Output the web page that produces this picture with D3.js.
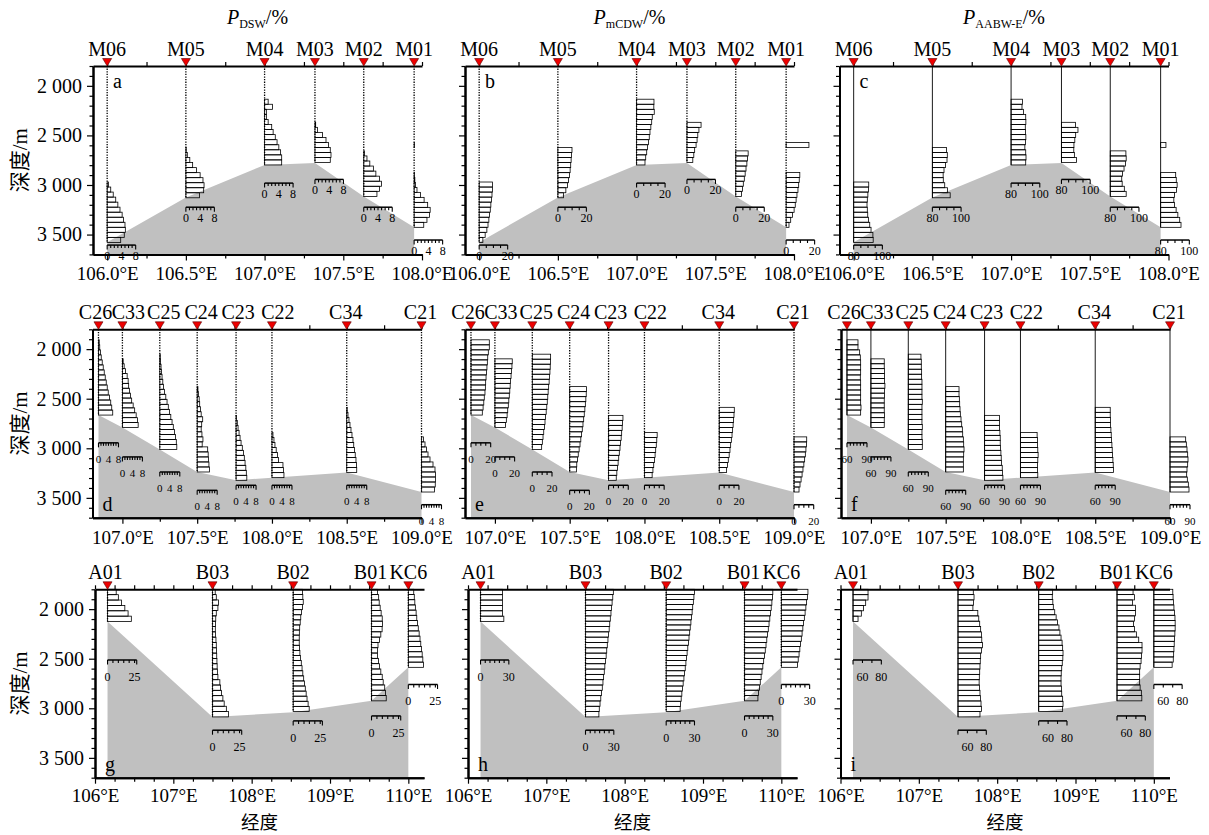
<!DOCTYPE html>
<html lang="zh">
<head>
<meta charset="utf-8">
<title>Water mass fractions along three sections</title>
<script src="https://d3js.org/d3.v7.min.js"></script>
<style>
  body { margin: 0; background: #fff; }
  .cjk { font-family: "Noto Sans CJK SC", sans-serif; }
</style>
</head>
<body>
<svg id="fig"></svg>
<script>
// ---------- data ----------
// section M (panels a-c)
const mNames = ["M06", "M05", "M04", "M03", "M02", "M01"];
const mLon = [106.0, 106.5, 107.0, 107.32, 107.63, 107.95];
const mFloor = [3578, 3125, 2798, 2778, 3116, 3427];
const mTop = [2970, 2622, 2135, 2368, 2656, 2571];
const mBottom = [3579, 3129, 2798, 2774, 3115, 3427];
const mRuler = [3606, 3224, 2981, 2944, 3224, 3555];
const mDSW = [
  [0.4, 1.0, 1.7, 2.4, 3.0, 3.6, 4.2, 4.6, 5.0, 5.1, 4.8, 3.8],
  [0.1, 0.4, 1.1, 1.9, 3.0, 4.0, 4.8, 5.1, 5.0, 3.8],
  [1.0, 2.2, 0.5, 0.5, 1.0, 2.0, 2.4, 3.0, 3.5, 4.0, 4.5, 4.8, 4.8],
  [0.2, 0.7, 2.1, 3.1, 3.8, 4.3, 4.5, 4.3],
  [0.2, 0.9, 1.7, 2.7, 3.4, 4.4, 5.0, 4.4, 3.7],
  [0.1, null, null, null, null, null, 0.1, 0.2, 0.4, 0.8, 1.8, 2.8, 3.8, 4.5, 4.3, 3.6, 2.7]
];
const mCDW = [
  [9.4, 9.3, 9.0, 8.6, 8.2, 7.8, 7.3, 6.8, 6.2, 5.4, 4.2, 2.6],
  [9.9, 9.6, 9.3, 9.0, 8.6, 8.1, 7.5, 6.8, 5.6, 4.0],
  [12.2, 12.1, 12.4, 11.0, 10.6, 10.0, 9.4, 8.9, 8.3, 7.7, 7.1, 6.4, 5.9],
  [9.9, 8.4, 7.6, 7.1, 6.4, 5.4, 4.8, 4.1],
  [8.7, 8.3, 7.8, 7.2, 6.6, 6.0, 5.3, 4.7, 4.0],
  [16.0, null, null, null, null, null, 9.6, 9.2, 8.8, 8.3, 7.6, 7.0, 6.4, 5.6, 4.5, 3.2, 2.0]
];
const mAABW = [
  [90.5, 90.4, 89.9, 89.5, 89.3, 89.5, 89.8, 90.4, 91.2, 92.1, 93.4, 93.6],
  [89.8, 90.4, 90.2, 89.2, 88.1, 87.5, 87.6, 88.6, 90.6, 92.4],
  [87.9, 87.6, 88.6, 90.2, 90.3, 89.9, 90.1, 90.3, 90.0, 89.6, 90.2, 90.4, 90.2],
  [89.8, 91.5, 89.9, 89.3, 88.7, 88.6, 89.0, 90.5],
  [90.9, 91.1, 90.6, 89.6, 88.6, 88.0, 88.3, 89.8, 91.1],
  [83.7, null, null, null, null, null, 90.5, 90.9, 91.5, 91.0, 89.7, 89.2, 89.6, 90.8, 92.0, 93.3, 94.2]
];

// section C (panels d-f)
const cNames = ["C26", "C33", "C25", "C24", "C23", "C22", "C34", "C21"];
const cLon = [106.84, 107.0, 107.25, 107.5, 107.76, 108.0, 108.5, 109.0];
const cFloor = [2665, 2790, 3012, 3239, 3323, 3296, 3245, 3441];
const cTop = [1906, 2098, 2051, 2378, 2668, 2841, 2587, 2885];
const cBottom = [2665, 2790, 3012, 3239, 3323, 3296, 3245, 3441];
const cRuler = [2945, 3087, 3239, 3424, 3373, 3373, 3373, 3569];
const cDSW = [
  [0.3, 0.5, 0.8, 1.1, 1.5, 1.9, 2.3, 2.7, 3.1, 3.5, 3.9, 4.4, 4.9, 5.3, 5.7],
  [0.3, 0.7, 1.2, 1.9, 2.3, 2.5, 2.8, 3.2, 3.7, 4.3, 4.9, 5.5, 6.0, 6.3],
  [0.2, 0.3, 0.5, 0.7, 0.9, 1.2, 1.5, 1.9, 2.4, 2.9, 3.4, 3.9, 4.4, 4.9, 5.4, 5.9, 6.3, 6.6, 6.8],
  [0.3, 0.5, 0.8, 1.0, 1.3, 1.6, 2.2, 1.8, 1.6, 1.9, 2.3, 2.0, 4.2, 4.4, 4.5, 4.7, 4.9],
  [0.2, 0.5, 0.8, 1.2, 1.6, 2.0, 2.5, 3.0, 3.3, 3.6, 3.9, 4.1, 4.3],
  [0.4, 0.8, 1.2, 1.7, 2.2, 2.6, 4.4, 4.6, 4.8],
  [0.2, 0.5, 0.9, 1.3, 1.7, 2.1, 2.5, 2.8, 3.1, 3.4, 3.7, 3.9, 4.0],
  [0.8, 1.4, 2.0, 2.6, 3.4, 4.6, 5.4, 5.6, 5.6, 5.5, 5.2]
];
const cCDW = [
  [18.6, 18.6, 17.6, 17.0, 16.6, 16.2, 15.8, 15.3, 14.9, 14.6, 14.2, 13.5, 13.0, 12.3, 11.5],
  [17.6, 17.3, 16.8, 16.4, 15.9, 15.5, 15.1, 14.6, 14.1, 13.6, 13.0, 12.4, 11.6, 10.8],
  [18.6, 18.5, 18.2, 17.9, 17.5, 17.1, 16.6, 16.1, 15.7, 15.2, 14.7, 14.1, 13.5, 12.9, 12.3, 11.6, 10.9, 10.2, 9.5],
  [17.0, 16.8, 16.4, 15.9, 15.4, 14.8, 14.2, 13.5, 12.8, 12.1, 11.3, 10.5, 9.6, 8.7, 7.9, 7.2, 6.8],
  [14.6, 14.2, 13.8, 13.3, 12.8, 12.2, 11.6, 10.9, 10.3, 9.7, 9.0, 8.4, 7.8],
  [12.9, 12.5, 12.0, 11.4, 10.8, 10.1, 9.4, 8.6, 7.8],
  [15.3, 15.0, 14.6, 14.1, 13.6, 13.0, 12.3, 11.6, 10.9, 10.1, 9.2, 8.3, 7.5],
  [12.9, 12.6, 12.1, 11.5, 10.8, 10.0, 9.1, 8.2, 7.2, 6.1, 5.1]
];
const cAABW = [
  [76.5, 76.5, 79.0, 80.0, 80.5, 80.5, 80.5, 80.0, 80.5, 80.5, 80.5, 80.5, 80.5, 81.0, 80.5],
  [80.0, 80.0, 80.5, 80.5, 80.5, 81.0, 80.5, 80.5, 80.0, 80.0, 80.0, 80.5, 80.0, 80.0],
  [79.0, 79.5, 79.5, 80.0, 80.0, 80.5, 80.5, 80.5, 80.5, 81.0, 80.5, 80.5, 80.5, 80.5, 81.0, 80.5, 80.5, 81.0, 81.0],
  [80.0, 80.0, 80.5, 81.0, 81.5, 82.0, 83.0, 84.0, 85.0, 85.5, 86.5, 87.0, 87.5, 87.0, 86.5, 86.5, 86.5],
  [82.5, 82.5, 82.5, 83.0, 83.5, 83.5, 84.0, 84.5, 85.0, 85.5, 86.5, 87.0, 87.5],
  [85.0, 85.5, 85.5, 86.0, 86.5, 86.0, 85.5, 85.5, 86.0],
  [82.5, 82.5, 83.0, 83.0, 83.5, 84.0, 84.5, 85.0, 85.5, 86.0, 86.5, 87.0, 87.5],
  [83.5, 84.5, 85.5, 86.5, 87.0, 86.5, 85.5, 85.0, 86.0, 87.5, 88.5]
];

// section A/B/KC (panels g-i)
const bNames = ["A01", "B03", "B02", "B01", "KC6"];
const bLon = [106.16, 107.5, 108.53, 109.53, 110.0];
const bFloor = [2125, 3087, 3040, 2925, 2587];
const bTop = [1800, 1800, 1800, 1800, 1800];
const bBottom = [2125, 3087, 3032, 2925, 2587];
const bRuler = [2513, 3221, 3127, 3077, 2760];
const bDSW = [
  [8, 10, 13, 16, 19, 22],
  [2.5, 3.5, 5.5, 5.0, 3.5, 3.0, 2.8, 2.6, 2.8, 3.2, 3.5, 3.7, 3.9, 4.1, 4.3, 4.5, 5.0, 6.8, 7.5, 8.4, 9.6, 10.8, 12.8, 14.8],
  [8.6, 8.9, 9.3, 8.6, 7.6, 7.0, 6.5, 6.0, 5.7, 5.6, 5.6, 5.8, 6.2, 6.8, 7.5, 8.2, 8.9, 9.7, 10.4, 11.2, 12.0, 12.8, 13.8, 14.8],
  [5.6, 6.6, 7.1, 8.0, 8.9, 9.9, 10.2, 9.8, 8.6, 7.4, 6.0, 5.6, 5.6, 6.5, 7.4, 8.6, 9.9, 10.8, 12.2, 13.0, 13.6],
  [5.0, 5.5, 6.0, 6.5, 7.2, 7.8, 8.5, 9.2, 10.0, 10.8, 11.5, 12.2, 12.8, 13.4, 14.0]
];
const bCDW = [
  [23.3, 23.3, 23.3, 23.3, 23.3, 24.7],
  [29.5, 28.9, 28.2, 27.6, 27.0, 26.3, 25.7, 25.1, 24.4, 23.8, 23.1, 22.5, 21.9, 21.2, 20.5, 19.9, 19.2, 18.5, 17.8, 17.0, 16.2, 15.4, 14.6, 14.2],
  [30.0, 29.4, 28.8, 28.1, 27.5, 26.8, 26.2, 25.5, 24.9, 24.2, 23.6, 22.9, 22.2, 21.6, 20.9, 20.2, 19.5, 18.8, 18.0, 17.3, 16.6, 15.9, 15.2, 14.8],
  [30.0, 29.6, 29.0, 28.3, 27.6, 26.8, 26.0, 25.2, 24.4, 23.6, 22.8, 22.0, 21.1, 20.3, 19.4, 18.5, 17.6, 16.7, 15.8, 14.9, 14.2],
  [28.2, 27.6, 26.8, 26.0, 25.2, 24.4, 23.6, 22.8, 22.0, 21.2, 20.4, 19.6, 18.8, 17.9, 17.2]
];
const bAABW = [
  [65.9, 65.9, 63.4, 61.0, 58.8, 55.3],
  [66.2, 67.0, 66.5, 65.8, 71.0, 72.0, 73.0, 74.0, 74.8, 75.2, 76.0, 74.8, 74.0, 73.6, 73.3, 73.0, 72.6, 72.4, 72.7, 73.3, 73.8, 74.4, 75.0, 73.3],
  [64.8, 64.4, 65.0, 65.5, 67.0, 68.5, 70.0, 71.5, 72.5, 73.7, 74.8, 75.4, 75.8, 75.6, 75.0, 74.4, 73.9, 73.7, 73.7, 74.1, 74.4, 75.4, 75.8, 75.4],
  [67.0, 68.5, 66.3, 69.5, 69.5, 68.5, 67.5, 68.5, 70.5, 73.0, 76.5, 76.5, 76.0, 75.5, 74.5, 74.0, 74.0, 74.0, 74.5, 75.8, 76.3],
  [70.1, 70.4, 70.8, 71.3, 71.9, 72.4, 72.6, 72.6, 72.3, 71.9, 71.6, 71.3, 71.0, 70.6, 69.4]
];

const depthTicks = [2000, 2500, 3000, 3500];
const titles = ["DSW", "mCDW", "AABW-E"];
const letters = [["a", "b", "c"], ["d", "e", "f"], ["g", "h", "i"]];

// ---------- layout ----------
const W = 1209, H = 835;
const panelW = 329, panelH = 188.4;
const rowTop = [66, 329.3, 589.3];
const colLeft = [[93, 465, 839.5], [92.5, 465, 841], [95, 468, 840.5]];
const xDomains = [[105.91, 108.0], [106.8, 109.0], [106.0, 110.2]];
const xMajor = [d3.range(106, 108.01, 0.5), d3.range(107, 109.01, 0.5), d3.range(106, 110.01, 1)];
const xFmt = [d => d.toFixed(1) + "°E", d => d.toFixed(1) + "°E", d => d + "°E"];
const labelDx = [[0, 0, 0, 0, 0, 0], [-3, 6, 4, 4, 2, 6, -1, -1], [-2, 0, 0, -1, 0]];
const rulerLabelY = [15, 20, 21];

const sections = [
  { names: mNames, lon: mLon, floor: mFloor, top: mTop, bottom: mBottom, ruler: mRuler },
  { names: cNames, lon: cLon, floor: cFloor, top: cTop, bottom: cBottom, ruler: cRuler },
  { names: bNames, lon: bLon, floor: bFloor, top: bTop, bottom: bBottom, ruler: bRuler }
];

// value column -> bar scale and small ruler under each profile
const panelSpec = [
  [ { vals: mDSW, dom: [0, 8], px: 28.5, step: 1, lab: [0, 4, 8] },
    { vals: mCDW, dom: [0, 20], px: 28.5, step: 5, lab: [0, 20] },
    { vals: mAABW, dom: [80, 100], px: 28.7, step: 5, lab: [80, 100] } ],
  [ { vals: cDSW, dom: [0, 8], px: 20, step: 1, lab: [0, 4, 8] },
    { vals: cCDW, dom: [0, 20], px: 19.7, step: 5, lab: [0, 20] },
    { vals: cAABW, dom: [60, 90], px: 20, step: 5, lab: [60, 90] } ],
  [ { vals: bDSW, dom: [0, 27], px: 29.2, step: 5, lab: [0, 25] },
    { vals: bCDW, dom: [0, 30], px: 28.3, step: 5, lab: [0, 30] },
    { vals: bAABW, dom: [50, 80], px: 28.3, step: 10, lab: [60, 80] } ]
];

const svg = d3.select("#fig")
  .attr("width", W).attr("height", H)
  .attr("font-family", "'Liberation Serif', 'Times New Roman', serif");

function styleAxis(g, fs) {
  g.attr("font-family", null).attr("font-size", fs);
  g.select(".domain").attr("stroke-width", 2);
  g.selectAll(".tick line").attr("stroke-width", 1.2);
}

for (let r = 0; r < 3; r++) {
  for (let c = 0; c < 3; c++) {
    const sec = sections[r], p = panelSpec[r][c];
    const left = colLeft[r][c], top = rowTop[r];
    const g = svg.append("g").attr("transform", `translate(${left},${top})`);

    const x = d3.scaleLinear().domain(xDomains[r]).range([0, panelW]);
    const y = d3.scaleLinear().domain([1800, 3700]).range([0, panelH]);
    const vs = d3.scaleLinear().domain(p.dom).range([0, p.px]);

    // sea floor
    const area = d3.area().x(d => x(d[0])).y0(y(3700)).y1(d => y(d[1]));
    g.append("path")
      .datum(d3.zip(sec.lon, sec.floor))
      .attr("d", area)
      .attr("fill", "#c0c0c0");

    // station lines
    g.selectAll(".stn")
      .data(sec.lon)
      .join("line")
      .attr("x1", d => x(d)).attr("x2", d => x(d))
      .attr("y1", 0).attr("y2", (d, i) => y(sec.bottom[i]))
      .attr("stroke", "#000")
      .attr("stroke-width", c < 2 ? 1.3 : 0.9)
      .attr("stroke-dasharray", c < 2 ? "1.3,1.3" : null);

    // profiles
    sec.names.forEach((nm, s) => {
      const vals = p.vals[s];
      const step = (sec.bottom[s] - sec.top[s]) / vals.length;
      const bars = vals.map((v, i) => ({ v, d0: sec.top[s] + i * step, d1: sec.top[s] + (i + 1) * step }))
        .filter(b => b.v != null);
      g.append("g").selectAll("rect")
        .data(bars)
        .join("rect")
        .attr("x", x(sec.lon[s]))
        .attr("y", b => y(b.d0))
        .attr("width", b => Math.max(0.3, vs(b.v)))
        .attr("height", b => y(b.d1) - y(b.d0))
        .attr("fill", "none")
        .attr("stroke", "#000")
        .attr("stroke-width", 0.8);

      // ruler
      const rg = g.append("g").attr("transform", `translate(${x(sec.lon[s])},${y(sec.ruler[s])})`);
      rg.append("line").attr("x1", 0).attr("x2", vs(p.dom[1]))
        .attr("stroke", "#000").attr("stroke-width", 1.5);
      let ticks = d3.range(p.dom[0], p.dom[1] + 1e-6, p.step);
      if (Math.abs(ticks[ticks.length - 1] - p.dom[1]) > 1e-6) ticks.push(p.dom[1]);
      rg.selectAll("line.t")
        .data(ticks)
        .join("line")
        .attr("x1", d => vs(d)).attr("x2", d => vs(d))
        .attr("y1", 0)
        .attr("y2", (d, i) => (i === 0 || i === ticks.length - 1) ? 4.5 : 3)
        .attr("stroke", "#000").attr("stroke-width", 1.1);
      rg.selectAll("text")
        .data(p.lab)
        .join("text")
        .attr("x", d => vs(d))
        .attr("y", rulerLabelY[r])
        .attr("text-anchor", "middle")
        .attr("font-size", r === 1 ? 11 : 12)
        .text(d => d);
    });

    // axes
    const minorX = d3.range(Math.ceil(xDomains[r][0] / 0.25) * 0.25, xDomains[r][1] + 1e-6, 0.25)
      .filter(v => !xMajor[r].some(m => Math.abs(m - v) < 1e-6));
    g.append("g").attr("transform", `translate(0,${panelH})`)
      .call(d3.axisBottom(x).tickValues(minorX).tickSize(4).tickSizeOuter(0).tickFormat(""))
      .call(a => styleAxis(a, 19));
    const bx = g.append("g").attr("transform", `translate(0,${panelH})`)
      .call(d3.axisBottom(x).tickValues(xMajor[r]).tickSize(6).tickSizeOuter(0).tickFormat(xFmt[r]))
      .call(a => styleAxis(a, 19));
    bx.selectAll("text").attr("y", r === 2 ? 11 : 12.5);

    g.append("g")
      .call(d3.axisTop(x).tickValues(xMajor[r].concat(minorX)).tickSize(4).tickSizeOuter(0).tickFormat(""))
      .call(a => styleAxis(a, 20));

    g.append("g")
      .call(d3.axisLeft(y).tickValues(d3.range(1800, 3701, 100).filter(v => !depthTicks.includes(v)))
        .tickSize(3.5).tickSizeOuter(0).tickFormat(""))
      .call(a => styleAxis(a, 20));
    const ly = g.append("g")
      .call(d3.axisLeft(y).tickValues(depthTicks).tickSize(6).tickSizeOuter(0)
        .tickFormat(c === 0 ? (d => d3.format(",")(d).replace(",", " ")) : ""))
      .call(a => styleAxis(a, 20));
    ly.selectAll("text").attr("x", -11);

    // station markers
    g.selectAll(".tri")
      .data(sec.lon)
      .join("path")
      .attr("d", d => `M${x(d) - 4.5},-7.5L${x(d) + 4.5},-7.5L${x(d)},0Z`)
      .attr("fill", "#ee0000")
      .attr("stroke", "#550000")
      .attr("stroke-width", 0.6);
    g.selectAll(".stnlab")
      .data(sec.names)
      .join("text")
      .attr("x", (d, i) => x(sec.lon[i]) + labelDx[r][i])
      .attr("y", -10)
      .attr("text-anchor", "middle")
      .attr("font-size", 20)
      .text(d => d);

    // panel letter
    g.append("text")
      .attr("x", r === 0 ? 20 : 10)
      .attr("y", r === 0 ? 22 : panelH - 7)
      .attr("font-size", 20)
      .text(letters[r][c]);

    // column titles
    if (r === 0) {
      const t = svg.append("text")
        .attr("x", left + panelW / 2)
        .attr("y", 24)
        .attr("text-anchor", "middle")
        .attr("font-size", 20);
      t.append("tspan").attr("font-style", "italic").text("P");
      t.append("tspan").attr("font-size", 12).attr("dy", 4).text(titles[c]);
      t.append("tspan").attr("dy", -4).text("/%");
    }

    // y title
    if (c === 0) {
      const yt = svg.append("text")
        .attr("transform", `translate(27,${top + panelH / 2}) rotate(-90)`)
        .attr("text-anchor", "middle")
        .attr("font-size", 21);
      yt.append("tspan").attr("class", "cjk").text("深度");
      yt.append("tspan").text("/m");
    }

    // x title
    if (r === 2) {
      svg.append("text")
        .attr("class", "cjk")
        .attr("x", left + panelW / 2)
        .attr("y", 829)
        .attr("text-anchor", "middle")
        .attr("font-size", 18.5)
        .text("经度");
    }
  }
}
</script>
</body>
</html>
